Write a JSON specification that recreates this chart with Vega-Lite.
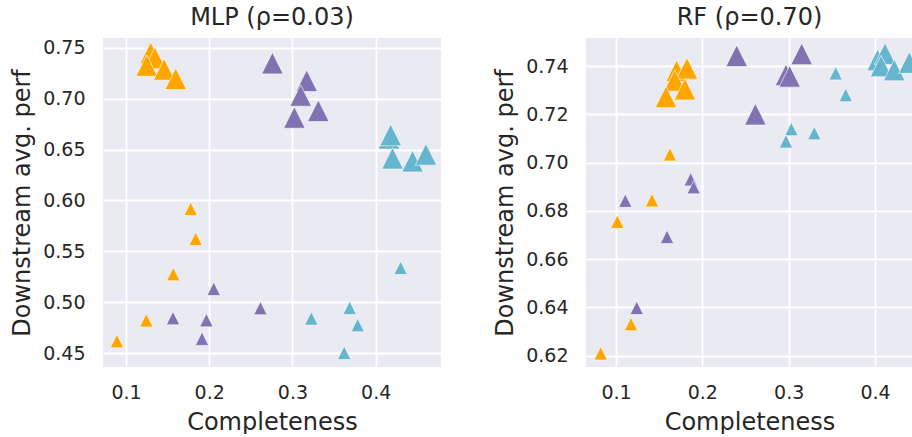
{
  "$schema": "https://vega.github.io/schema/vega-lite/v6.json",
  "padding": {"left": 10, "top": 6, "right": 0, "bottom": 0},
  "spacing": 52,
  "datasets": {
    "mlp": [
      {"x": 0.1297, "y": 0.7448, "group": "A", "setting": "large"},
      {"x": 0.1348, "y": 0.7399, "group": "A", "setting": "large"},
      {"x": 0.1249, "y": 0.7325, "group": "A", "setting": "large"},
      {"x": 0.1459, "y": 0.7286, "group": "A", "setting": "large"},
      {"x": 0.1598, "y": 0.7195, "group": "A", "setting": "large"},
      {"x": 0.1777, "y": 0.5919, "group": "A", "setting": "small"},
      {"x": 0.1837, "y": 0.5624, "group": "A", "setting": "small"},
      {"x": 0.1568, "y": 0.5277, "group": "A", "setting": "small"},
      {"x": 0.1244, "y": 0.4824, "group": "A", "setting": "small"},
      {"x": 0.0891, "y": 0.4619, "group": "A", "setting": "small"},
      {"x": 0.2759, "y": 0.7348, "group": "B", "setting": "large"},
      {"x": 0.3171, "y": 0.7175, "group": "B", "setting": "large"},
      {"x": 0.3099, "y": 0.7031, "group": "B", "setting": "large"},
      {"x": 0.3023, "y": 0.6815, "group": "B", "setting": "large"},
      {"x": 0.3311, "y": 0.6880, "group": "B", "setting": "large"},
      {"x": 0.2054, "y": 0.5133, "group": "B", "setting": "small"},
      {"x": 0.2615, "y": 0.4943, "group": "B", "setting": "small"},
      {"x": 0.1565, "y": 0.4845, "group": "B", "setting": "small"},
      {"x": 0.1966, "y": 0.4825, "group": "B", "setting": "small"},
      {"x": 0.1913, "y": 0.4643, "group": "B", "setting": "small"},
      {"x": 0.4160, "y": 0.6610, "group": "C", "setting": "large"},
      {"x": 0.4180, "y": 0.6643, "group": "C", "setting": "large"},
      {"x": 0.4203, "y": 0.6414, "group": "C", "setting": "large"},
      {"x": 0.4443, "y": 0.6386, "group": "C", "setting": "large"},
      {"x": 0.4604, "y": 0.6452, "group": "C", "setting": "large"},
      {"x": 0.4300, "y": 0.5339, "group": "C", "setting": "small"},
      {"x": 0.3688, "y": 0.4947, "group": "C", "setting": "small"},
      {"x": 0.3227, "y": 0.4842, "group": "C", "setting": "small"},
      {"x": 0.3784, "y": 0.4776, "group": "C", "setting": "small"},
      {"x": 0.3622, "y": 0.4505, "group": "C", "setting": "small"}
    ],
    "rf": [
      {"x": 0.1703, "y": 0.7380, "group": "A", "setting": "large"},
      {"x": 0.1822, "y": 0.7390, "group": "A", "setting": "large"},
      {"x": 0.1680, "y": 0.7340, "group": "A", "setting": "large"},
      {"x": 0.1799, "y": 0.7304, "group": "A", "setting": "large"},
      {"x": 0.1579, "y": 0.7272, "group": "A", "setting": "large"},
      {"x": 0.1625, "y": 0.7034, "group": "A", "setting": "small"},
      {"x": 0.1417, "y": 0.6844, "group": "A", "setting": "small"},
      {"x": 0.1015, "y": 0.6755, "group": "A", "setting": "small"},
      {"x": 0.1174, "y": 0.6331, "group": "A", "setting": "small"},
      {"x": 0.0823, "y": 0.6210, "group": "A", "setting": "small"},
      {"x": 0.2398, "y": 0.7442, "group": "B", "setting": "large"},
      {"x": 0.3151, "y": 0.7450, "group": "B", "setting": "large"},
      {"x": 0.2969, "y": 0.7363, "group": "B", "setting": "large"},
      {"x": 0.3012, "y": 0.7357, "group": "B", "setting": "large"},
      {"x": 0.2614, "y": 0.7200, "group": "B", "setting": "large"},
      {"x": 0.1865, "y": 0.6931, "group": "B", "setting": "small"},
      {"x": 0.1900, "y": 0.6898, "group": "B", "setting": "small"},
      {"x": 0.1108, "y": 0.6842, "group": "B", "setting": "small"},
      {"x": 0.1591, "y": 0.6692, "group": "B", "setting": "small"},
      {"x": 0.1240, "y": 0.6398, "group": "B", "setting": "small"},
      {"x": 0.4031, "y": 0.7425, "group": "C", "setting": "large"},
      {"x": 0.4116, "y": 0.7451, "group": "C", "setting": "large"},
      {"x": 0.4070, "y": 0.7400, "group": "C", "setting": "large"},
      {"x": 0.4223, "y": 0.7383, "group": "C", "setting": "large"},
      {"x": 0.4397, "y": 0.7414, "group": "C", "setting": "large"},
      {"x": 0.3545, "y": 0.7370, "group": "C", "setting": "small"},
      {"x": 0.3661, "y": 0.7280, "group": "C", "setting": "small"},
      {"x": 0.3031, "y": 0.7139, "group": "C", "setting": "small"},
      {"x": 0.3297, "y": 0.7122, "group": "C", "setting": "small"},
      {"x": 0.2969, "y": 0.7088, "group": "C", "setting": "small"}
    ]
  },
  "hconcat": [
    {
      "title": "MLP (ρ=0.03)",
      "width": 338,
      "height": 329,
      "data": {"name": "mlp"},
      "mark": {"type": "point", "filled": true, "opacity": 1, "shape": "M0,-1L1,1L-1,1Z", "stroke": "white", "strokeWidth": 0.6, "clip": true},
      "encoding": {
        "x": {"field": "x", "type": "quantitative", "title": "Completeness",
              "scale": {"domain": [0.07237, 0.47847], "nice": false, "zero": false},
              "axis": {"values": [0.1, 0.2, 0.3, 0.4], "format": ".1f", "labelPadding": 16, "titlePadding": 8}},
        "y": {"field": "y", "type": "quantitative", "title": "Downstream avg. perf",
              "scale": {"domain": [0.43655, 0.75952], "nice": false, "zero": false},
              "axis": {"values": [0.45, 0.5, 0.55, 0.6, 0.65, 0.7, 0.75], "format": ".2f", "labelPadding": 18, "titlePadding": 8}},
        "color": {"field": "group", "type": "nominal", "legend": null,
                  "scale": {"domain": ["A", "B", "C"], "range": ["#FFA500", "#8172B2", "#64B5CD"]}},
        "size": {"field": "setting", "type": "nominal", "legend": null,
                 "scale": {"domain": ["large", "small"], "range": [462, 177]}}
      }
    },
    {
      "title": "RF (ρ=0.70)",
      "width": 327,
      "height": 329,
      "data": {"name": "rf"},
      "mark": {"type": "point", "filled": true, "opacity": 1, "shape": "M0,-1L1,1L-1,1Z", "stroke": "white", "strokeWidth": 0.6, "clip": true},
      "encoding": {
        "x": {"field": "x", "type": "quantitative", "title": "Completeness",
              "scale": {"domain": [0.06525, 0.444], "nice": false, "zero": false},
              "axis": {"values": [0.1, 0.2, 0.3, 0.4], "format": ".1f", "labelPadding": 16, "titlePadding": 8}},
        "y": {"field": "y", "type": "quantitative", "title": "Downstream avg. perf",
              "scale": {"domain": [0.61532, 0.7516], "nice": false, "zero": false},
              "axis": {"values": [0.62, 0.64, 0.66, 0.68, 0.7, 0.72, 0.74], "format": ".2f", "labelPadding": 18, "titlePadding": 8}},
        "color": {"field": "group", "type": "nominal", "legend": null,
                  "scale": {"domain": ["A", "B", "C"], "range": ["#FFA500", "#8172B2", "#64B5CD"]}},
        "size": {"field": "setting", "type": "nominal", "legend": null,
                 "scale": {"domain": ["large", "small"], "range": [462, 177]}}
      }
    }
  ],
  "resolve": {"scale": {"x": "independent", "y": "independent"}},
  "config": {
    "font": "DejaVu Sans",
    "view": {"fill": "#EAEAF2", "stroke": null},
    "axis": {"grid": true, "gridColor": "white", "gridWidth": 1.8, "domain": false, "ticks": false, "tickSize": 0,
             "labelFontSize": 19, "labelColor": "#262626", "titleFontSize": 24, "titleColor": "#262626", "titleFontWeight": "normal"},
    "title": {"fontSize": 24, "fontWeight": "normal", "color": "#262626", "offset": 8}
  }
}
